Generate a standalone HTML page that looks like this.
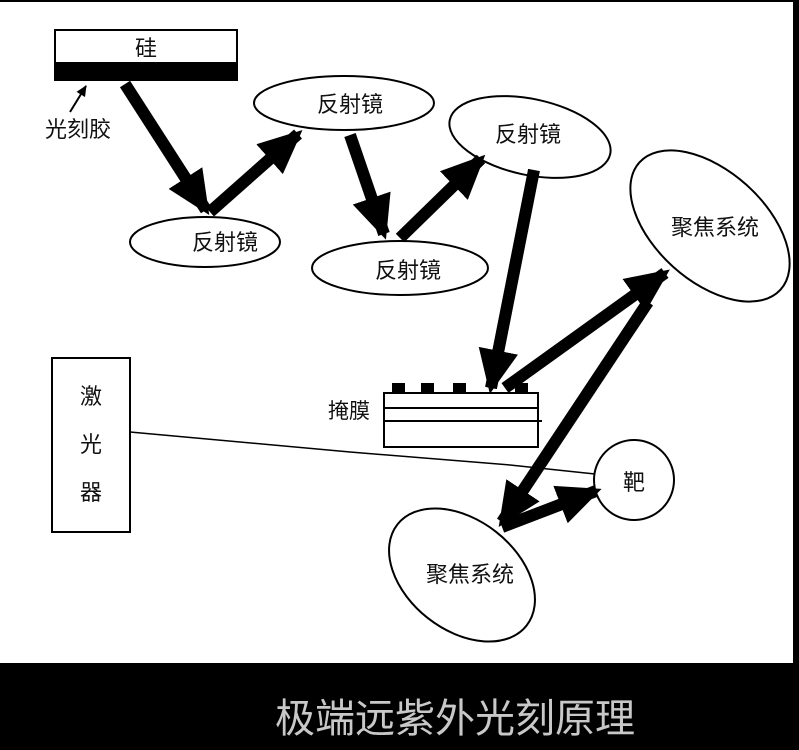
<!DOCTYPE html>
<html><head><meta charset="utf-8"><style>
html,body{margin:0;padding:0;background:#fff;}
svg{display:block;}
text{font-family:"Liberation Sans","Noto Sans CJK SC",sans-serif;fill:#111;}
</style></head><body>
<svg width="799" height="750" viewBox="0 0 799 750" xmlns="http://www.w3.org/2000/svg">
<defs>
<marker id="ah" markerUnits="userSpaceOnUse" markerWidth="50" markerHeight="50" refX="38" refY="25" orient="auto" viewBox="0 0 50 50">
<polygon points="0,5 44,25 0,45" fill="#000"/>
</marker>
<marker id="sh" markerUnits="userSpaceOnUse" markerWidth="12" markerHeight="12" refX="10" refY="6" orient="auto" viewBox="0 0 12 12">
<polygon points="0,1 11,6 0,11" fill="#000"/>
</marker>
</defs>
<rect x="0" y="0" width="799" height="750" fill="#fff"/>
<rect x="0" y="0" width="799" height="2" fill="#000"/>
<rect x="793" y="0" width="6" height="665" fill="#000"/>
<rect x="55" y="30" width="182" height="50" fill="#fff" stroke="#000" stroke-width="2"/>
<rect x="55" y="62" width="182" height="19" fill="#000"/>
<text x="146" y="56" font-size="22" text-anchor="middle">硅</text>
<line x1="70" y1="112" x2="86" y2="86" stroke="#000" stroke-width="2" marker-end="url(#sh)"/>
<text x="45" y="137" font-size="22">光刻胶</text>
<ellipse cx="205" cy="242" rx="75" ry="25" fill="#fff" stroke="#000" stroke-width="2"/>
<text x="225" y="250" font-size="22" text-anchor="middle">反射镜</text>
<ellipse cx="344" cy="103" rx="90" ry="27" fill="#fff" stroke="#000" stroke-width="2"/>
<text x="350" y="112" font-size="22" text-anchor="middle">反射镜</text>
<ellipse cx="530" cy="137" rx="82" ry="38" transform="rotate(12 530 137)" fill="#fff" stroke="#000" stroke-width="2"/>
<text x="528" y="142" font-size="22" text-anchor="middle">反射镜</text>
<ellipse cx="400" cy="268" rx="88" ry="27" fill="#fff" stroke="#000" stroke-width="2"/>
<text x="408" y="278" font-size="22" text-anchor="middle">反射镜</text>
<ellipse cx="710" cy="226" rx="95" ry="55" transform="rotate(42 710 226)" fill="#fff" stroke="#000" stroke-width="2"/>
<text x="715" y="235" font-size="22" text-anchor="middle">聚焦系统</text>
<rect x="392" y="383" width="13" height="10" fill="#000"/>
<rect x="421" y="383" width="13" height="10" fill="#000"/>
<rect x="453" y="383" width="13" height="10" fill="#000"/>
<rect x="515" y="383" width="13" height="10" fill="#000"/>
<rect x="384" y="393" width="154" height="54" fill="#fff" stroke="#000" stroke-width="2"/>
<line x1="384" y1="408" x2="538" y2="408" stroke="#000" stroke-width="2"/>
<line x1="384" y1="421" x2="542" y2="421" stroke="#000" stroke-width="2"/>
<text x="328" y="418" font-size="21">掩膜</text>
<rect x="52" y="358" width="78" height="174" fill="#fff" stroke="#000" stroke-width="2"/>
<text x="91" y="404" font-size="22" text-anchor="middle">激</text>
<text x="91" y="452" font-size="22" text-anchor="middle">光</text>
<text x="91" y="500" font-size="22" text-anchor="middle">器</text>
<polyline points="130,432 350,452 510,465 595,474" fill="none" stroke="#000" stroke-width="1.5"/>
<circle cx="634" cy="480" r="40" fill="#fff" stroke="#000" stroke-width="2"/>
<text x="634" y="490" font-size="22" text-anchor="middle">靶</text>
<ellipse cx="462" cy="575" rx="82" ry="55" transform="rotate(38 462 575)" fill="#fff" stroke="#000" stroke-width="2"/>
<text x="470" y="582" font-size="22" text-anchor="middle">聚焦系统</text>
<g stroke="#000" stroke-width="12" fill="none">
<line x1="125" y1="84" x2="206" y2="210" marker-end="url(#ah)"/>
<line x1="210" y1="212" x2="298" y2="134" marker-end="url(#ah)"/>
<line x1="350" y1="135" x2="384" y2="234" marker-end="url(#ah)"/>
<line x1="400" y1="238" x2="481" y2="159" marker-end="url(#ah)"/>
<line x1="534" y1="170" x2="491" y2="388" marker-end="url(#ah)"/>
<line x1="505" y1="388" x2="665" y2="273" marker-end="url(#ah)"/>
<line x1="648" y1="302" x2="502" y2="522" marker-end="url(#ah)"/>
<line x1="502" y1="527" x2="596" y2="491" marker-end="url(#ah)"/>
</g>
<rect x="0" y="663" width="799" height="87" fill="#000"/>
<text x="455" y="732" font-size="40" text-anchor="middle" style="fill:#c8c8c8">极端远紫外光刻原理</text>
</svg>
</body></html>
